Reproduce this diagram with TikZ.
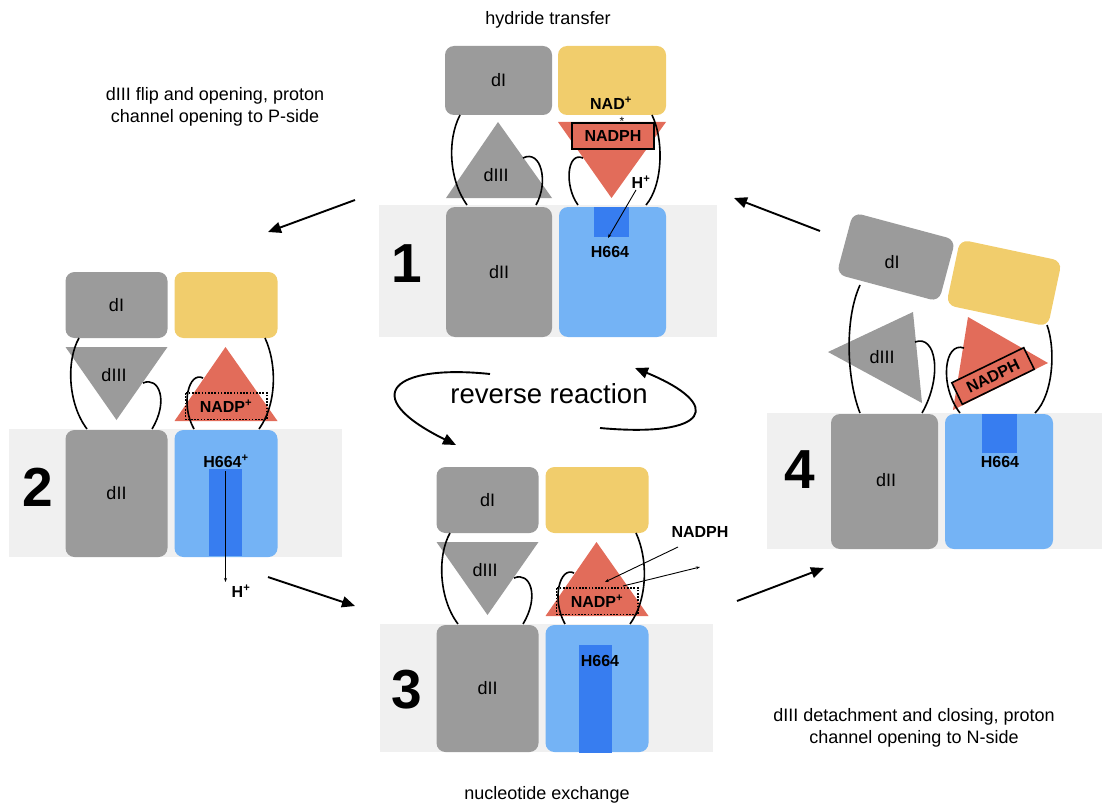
\documentclass[tikz,border=0pt]{standalone}
\usepackage{fontspec}
\setmainfont{Liberation Sans}
\usetikzlibrary{arrows.meta}

\definecolor{domgray}{RGB}{155,155,155}
\definecolor{nadyellow}{RGB}{241,205,108}
\definecolor{nadpred}{RGB}{226,108,90}
\definecolor{tmblue}{RGB}{116,179,245}
\definecolor{channelblue}{RGB}{55,125,240}
\definecolor{membrane}{RGB}{240,240,240}

\tikzset{
  lbl/.style={font=\fontsize{18}{22}\selectfont},
  blbl/.style={font=\bfseries\fontsize{16}{19}\selectfont},
  num/.style={font=\bfseries\fontsize{55}{60}\selectfont},
  box/.style={rounded corners=9pt, inner sep=0pt, lbl},
  linker/.style={draw=black, line width=1.6pt},
  cyclearrow/.style={line width=1.9pt, -{Triangle[length=13pt,width=11pt]}},
  thinarrow/.style={line width=0.9pt, -{Stealth[length=4pt,width=3pt]}},
  ligandbox/.style={draw=black, line width=1.6pt, fill=nadpred, inner sep=0pt, blbl},
  dotbox/.style={draw=black, line width=1.6pt, dash pattern=on 1.6pt off 1.6pt},
  % open conformation: dIII pointing down, NADP+ site facing up
  lowerpanel/.pic={
    \fill[membrane] (0,0) rectangle (333,128);
    \node[box, fill=domgray, minimum width=102pt, minimum height=127pt] (-dII) at (107.5,64.5) {dII};
    \node[box, fill=tmblue, minimum width=103pt, minimum height=127pt] (-blue) at (217,64.5) {};
    \node[box, fill=domgray, minimum width=102pt, minimum height=66pt] (-dI) at (107.5,-124) {dI};
    \node[box, fill=nadyellow, minimum width=103pt, minimum height=66pt] (-yel) at (217,-124) {};
    \fill[domgray] (56.5,-82) -- (158.5,-82) -- (107.5,-9) -- cycle;
    \node[lbl] (-dIII) at (105,-54) {dIII};
    \fill[nadpred] (216.5,-82) -- (268.5,-8) -- (165.5,-8) -- cycle;
    \draw[dotbox] (176.5,-36) rectangle (258,-9.5);
    \node[blbl] (-nadp) at (217,-22.5) {NADP\textsuperscript{+}};
    \draw[linker] (70,-91) .. controls (57,-68) and (59,-25) .. (78,0);
    \draw[linker] (134,-46) .. controls (150,-53) and (160,-28) .. (143,0);
    \draw[linker] (256,-91) .. controls (268,-65) and (268,-25) .. (250,0);
    \draw[linker] (194,-51) .. controls (180,-58) and (171,-25) .. (185,0);
  }
}

\begin{document}
\begin{tikzpicture}[x=1pt,y=-1pt]
\useasboundingbox (0,0) rectangle (1102,805);

% ---------- state 1: hydride transfer ----------
\fill[membrane] (379,205) rectangle (717,337);
\node[box, fill=domgray, minimum width=106pt, minimum height=130pt] (p1dII) at (499,272) {dII};
\node[box, fill=tmblue, minimum width=107pt, minimum height=130pt] (p1blue) at (612.5,272) {};
\fill[channelblue] (594,207) rectangle (629,237);
\node[box, fill=domgray, minimum width=107pt, minimum height=69pt] (p1dI) at (498.5,80.5) {dI};
\node[box, fill=nadyellow, minimum width=108pt, minimum height=69pt] (p1yel) at (612,80.5) {};
\node[blbl] (p1nad) at (611,103) {NAD\textsuperscript{+}};
\fill[domgray] (498,122) -- (552,198) -- (446,198) -- cycle;
\node[lbl] (p1dIII) at (496,175) {dIII};
\fill[nadpred] (558,122) -- (666,122) -- (611.5,198) -- cycle;
\node[ligandbox, minimum width=82pt, minimum height=26pt] (p1nadph) at (613,136) {NADPH};
\node[font=\fontsize{12}{12}\selectfont, inner sep=0pt] (p1star) at (622,121) {*};
\node[blbl] (p1hplus) at (641,182) {H\textsuperscript{+}};
\node[blbl] (p1h664) at (610,252) {H664};
\coordinate (p1hfrom) at (636,190);
\coordinate (p1hto) at (608,238);
\draw[thinarrow] (p1hfrom) -- (p1hto);
\draw[linker] (460,115) .. controls (447,140) and (449,180) .. (467,205);
\draw[linker] (523,158) .. controls (541,149) and (549,182) .. (536,205);
\draw[linker] (652,115) .. controls (664,140) and (663,185) .. (646,205);
\draw[linker] (583,158) .. controls (567,151) and (564,186) .. (578,205);
\node[num] (n1) at (407,264) {1};

% ---------- state 2: proton release to the P-side ----------
\pic (p2) at (9,429) {lowerpanel};
\fill[channelblue] (209,469) rectangle (242,556);
\node[blbl] (p2h664) at (226,461) {H664\textsuperscript{+}};
\coordinate (p2hfrom) at (225.5,471);
\coordinate (p2hto) at (225.5,582);
\draw[thinarrow] (p2hfrom) -- (p2hto);
\node[blbl] (p2hplus) at (241,591) {H\textsuperscript{+}};
\node[num] (n2) at (38,487) {2};

% ---------- state 3: nucleotide exchange ----------
\pic (p3) at (380,624) {lowerpanel};
\fill[channelblue] (579,645) rectangle (612,753);
\node[blbl] (p3h664) at (600,661) {H664};
\node[blbl] (p3nadph) at (700,532) {NADPH};
\coordinate (p3infrom) at (678,547);
\coordinate (p3into) at (605,582);
\coordinate (p3outfrom) at (623,586);
\coordinate (p3outto) at (700,567);
\draw[thinarrow] (p3infrom) -- (p3into);
\draw[thinarrow] (p3outfrom) -- (p3outto);
\node[num] (n3) at (407,690) {3};

% ---------- state 4: dIII detached, channel open to the N-side ----------
\fill[membrane] (767,413) rectangle (1102,549);
\node[box, fill=domgray, minimum width=107pt, minimum height=135pt] (p4dII) at (884.5,481.5) {};
\node[lbl] (p4dIIlbl) at (886,480) {dII};
\node[box, fill=tmblue, minimum width=108pt, minimum height=135pt] (p4blue) at (999,481.5) {};
\fill[channelblue] (982,414) rectangle (1017,453);
\node[blbl] (p4h664) at (1000,462) {H664};
\node[box, fill=domgray, minimum width=106pt, minimum height=64pt, rotate=-15] (p4dI) at (896,257) {};
\node[lbl] (p4dIlbl) at (892,262) {dI};
\node[box, fill=nadyellow, minimum width=104pt, minimum height=67pt, rotate=-12] (p4yel) at (1004,283) {};
\fill[domgray] (828,352) -- (913,312) -- (922,403) -- cycle;
\node[lbl] (p4dIII) at (882,357) {dIII};
\fill[nadpred] (968,317) -- (1048,363) -- (953,410) -- cycle;
\node[ligandbox, minimum width=80pt, minimum height=24pt, rotate=26] (p4nadph) at (993,376) {NADPH};
\draw[linker] (860,285) .. controls (844,320) and (847,380) .. (860,413);
\draw[linker] (915,342) .. controls (936,334) and (943,376) .. (922,413);
\draw[linker] (1047,325) .. controls (1056,350) and (1053,395) .. (1035,413);
\draw[linker] (964,348) .. controls (944,341) and (939,386) .. (960,413);
\node[num] (n4) at (800,470) {4};

% ---------- cycle arrows ----------
\coordinate (a12s) at (355,200); \coordinate (a12e) at (268,232);
\coordinate (a23s) at (268,577); \coordinate (a23e) at (355,606);
\coordinate (a34s) at (737,601); \coordinate (a34e) at (824,568);
\coordinate (a41s) at (820,231); \coordinate (a41e) at (734,198);
\draw[cyclearrow] (a12s) -- (a12e);
\draw[cyclearrow] (a23s) -- (a23e);
\draw[cyclearrow] (a34s) -- (a34e);
\draw[cyclearrow] (a41s) -- (a41e);

% ---------- reverse reaction ----------
\node[font=\fontsize{27.5}{30}\selectfont] (rev) at (549,394) {reverse reaction};
\coordinate (r1s) at (490,374); \coordinate (r1e) at (456,445);
\coordinate (r2s) at (600,428); \coordinate (r2e) at (635,368);
\draw[cyclearrow] (r1s) .. controls (395,364) and (355,395) .. (r1e);
\draw[cyclearrow] (r2s) .. controls (710,438) and (725,405) .. (r2e);

% ---------- step captions ----------
\node[lbl] (capA) at (548,20) {hydride transfer};
\node[lbl, align=center] (capB) at (215,107) {dIII flip and opening, proton\\channel opening to P-side};
\node[lbl, align=center] (capC) at (914,728) {dIII detachment and closing, proton\\channel opening to N-side};
\node[lbl] (capD) at (547,795) {nucleotide exchange};
\end{tikzpicture}
\end{document}
